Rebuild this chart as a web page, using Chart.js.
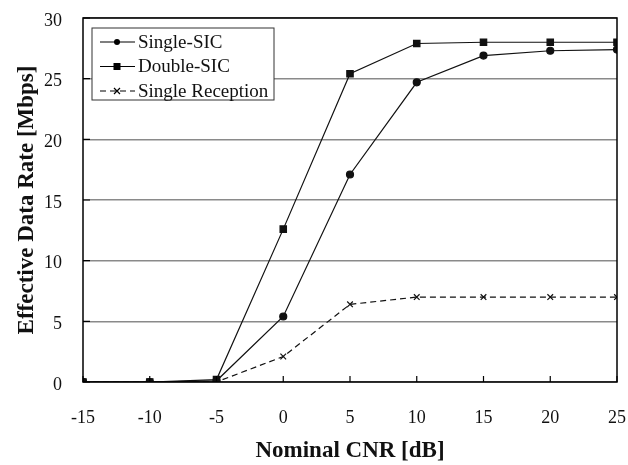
<!DOCTYPE html>
<html>
<head>
<meta charset="utf-8">
<script src="https://cdn.jsdelivr.net/npm/chart.js@4.4.1/dist/chart.umd.min.js"></script>
<style>
  html, body { margin: 0; padding: 0; background: #fff; }
  #chart { display: block; }
</style>
</head>
<body>
<canvas id="chart" width="628" height="465"></canvas>
<script>
// values
const cnr = [-15, -10, -5, 0, 5, 10, 15, 20, 25];
const singleSIC = [0, 0, 0.1, 5.4, 17.1, 24.7, 26.9, 27.3, 27.4];
const doubleSIC = [0, 0, 0.2, 12.6, 25.4, 27.9, 28.0, 28.0, 28.0];
const singleRx = [0, 0, 0, 2.1, 6.4, 7.0, 7.0, 7.0, 7.0];
const xTicks = [-15, -10, -5, 0, 5, 10, 15, 20, 25];
const yTicks = [0, 5, 10, 15, 20, 25, 30];

const serif = "'Liberation Serif', 'DejaVu Serif', serif";

function toPoints(ys){
  return cnr.map((x, i) => ({x: x, y: ys[i]}));
}

// frame, inner ticks and the boxed legend
const framePlugin = {
  id: 'frame',
  afterDatasetsDraw(chart){
    const ctx = chart.ctx;
    const a = chart.chartArea;
    const xs = chart.scales.x, ys = chart.scales.y;
    ctx.save();
    ctx.strokeStyle = '#000';
    ctx.lineWidth = 1.5;
    ctx.strokeRect(a.left, a.top, a.right - a.left, a.bottom - a.top);
    ctx.lineWidth = 1.2;
    ctx.beginPath();
    xTicks.forEach(v => {
      let px = xs.getPixelForValue(v);
      ctx.moveTo(px, a.bottom);
      ctx.lineTo(px, a.bottom - 6);
    });
    yTicks.forEach(v => {
      let py = ys.getPixelForValue(v);
      ctx.moveTo(a.left, py);
      ctx.lineTo(a.left + 7, py);
    });
    ctx.stroke();

    // legend
    let bx = 92, by = 28, bw = 182, bh = 72;
    ctx.fillStyle = '#fff';
    ctx.fillRect(bx, by, bw, bh);
    ctx.strokeStyle = '#333';
    ctx.lineWidth = 1;
    ctx.strokeRect(bx, by, bw, bh);
    ctx.font = '19px ' + serif;
    ctx.textBaseline = 'middle';
    ctx.textAlign = 'left';
    chart.data.datasets.forEach((ds, i) => {
      let y = by + 14 + i * 24.5;
      ctx.strokeStyle = '#000';
      ctx.lineWidth = 1.2;
      ctx.setLineDash(ds.borderDash || []);
      ctx.beginPath();
      ctx.moveTo(bx + 8, y);
      ctx.lineTo(bx + 43, y);
      ctx.stroke();
      ctx.setLineDash([]);
      let cx = bx + 25;
      ctx.fillStyle = '#000';
      if (ds.pointStyle === 'circle'){
        ctx.beginPath(); ctx.arc(cx, y, 3, 0, Math.PI * 2); ctx.fill();
      } else if (ds.pointStyle === 'rect'){
        ctx.fillRect(cx - 3.5, y - 3.5, 7, 7);
      } else {
        ctx.beginPath();
        ctx.moveTo(cx - 3, y - 3); ctx.lineTo(cx + 3, y + 3);
        ctx.moveTo(cx - 3, y + 3); ctx.lineTo(cx + 3, y - 3);
        ctx.stroke();
      }
      ctx.fillStyle = '#111';
      ctx.fillText(ds.label, bx + 46, y + 1);
    });
    ctx.restore();
  }
};

new Chart(document.getElementById('chart'), {
  type: 'line',
  data: {
    datasets: [
      {
        label: 'Single-SIC',
        data: toPoints(singleSIC),
        borderColor: '#111', backgroundColor: '#111',
        borderWidth: 1.2, pointStyle: 'circle', pointRadius: 3.5,
        tension: 0
      },
      {
        label: 'Double-SIC',
        data: toPoints(doubleSIC),
        borderColor: '#111', backgroundColor: '#111',
        borderWidth: 1.2, pointStyle: 'rect', pointRadius: 4.5,
        tension: 0
      },
      {
        label: 'Single Reception',
        data: toPoints(singleRx),
        borderColor: '#111', backgroundColor: '#111',
        borderWidth: 1.2, borderDash: [6, 4],
        pointStyle: 'crossRot', pointRadius: 4, pointBorderWidth: 1.2,
        tension: 0
      }
    ]
  },
  options: {
    responsive: false,
    animation: false,
    layout: { padding: { top: 18, right: 11, left: 0, bottom: 0 } },
    plugins: {
      legend: { display: false },
      tooltip: { enabled: false }
    },
    scales: {
      x: {
        type: 'linear', min: -15, max: 25,
        afterBuildTicks: (s) => { s.ticks = xTicks.map(v => ({value: v})); },
        afterFit: (s) => { s.height = 83; s.paddingLeft = 0; s.paddingRight = 0; },
        grid: { display: false, drawTicks: false },
        border: { display: false },
        ticks: { color: '#111', padding: 25, maxRotation: 0, font: { family: serif, size: 18 } },
        title: {
          display: true, text: 'Nominal CNR [dB]', color: '#111',
          font: { family: serif, size: 23, weight: 'bold' },
          padding: { top: 0, bottom: 0 }
        }
      },
      y: {
        min: 0, max: 30,
        afterBuildTicks: (s) => { s.ticks = yTicks.map(v => ({value: v})); },
        afterFit: (s) => { s.width = 83; s.paddingTop = 0; s.paddingBottom = 0; },
        grid: { color: '#8a8a8a', lineWidth: 1.5, drawTicks: false },
        border: { display: false },
        ticks: { color: '#111', padding: 21, labelOffset: 3, font: { family: serif, size: 18 } },
        title: {
          display: true, text: 'Effective Data Rate [Mbps]', color: '#111',
          font: { family: serif, size: 23, weight: 'bold' },
          padding: { top: 13, bottom: 0 }
        }
      }
    }
  },
  plugins: [framePlugin]
});
</script>
</body>
</html>
